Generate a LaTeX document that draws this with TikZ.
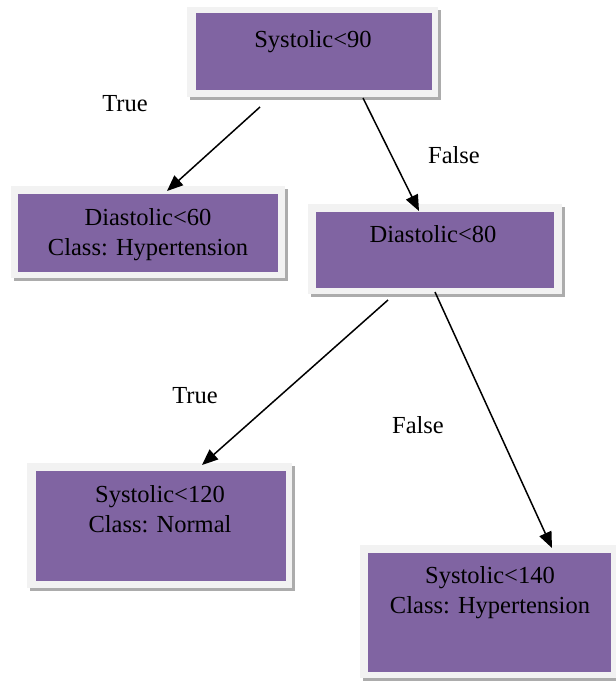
\documentclass[tikz,border=0pt]{standalone}
\usepackage{fontspec}
\setmainfont{Liberation Serif}
\usetikzlibrary{arrows.meta,shadows}
\definecolor{boxpurple}{HTML}{8064A2}
\definecolor{framegray}{HTML}{F2F2F2}
\begin{document}
\begin{tikzpicture}[x=1pt,y=-1pt,
  frame/.style={fill=framegray, draw=none, inner sep=0pt,
    general shadow={fill=gray!65, shadow xshift=3pt, shadow yshift=-3pt}},
  inner/.style={fill=boxpurple, draw=none, inner sep=0pt},
  txt/.style={font=\fontsize{24.5}{30}\selectfont, anchor=base, inner sep=0pt},
  arr/.style={line width=1.5pt, -{Triangle[length=16pt,width=13pt]}}]
\useasboundingbox (0,0) rectangle (616,683);

% box 1
\node[frame, minimum width=251pt, minimum height=90pt] (o1) at (312.5,52) {};
\node[inner, minimum width=236pt, minimum height=77pt] (b1) at (314,51.5) {};
\node[txt] (t1) at (313,47) {Systolic<90};
% box 2
\node[frame, minimum width=274pt, minimum height=92pt] (o2) at (148,232) {};
\node[inner, minimum width=260pt, minimum height=78pt] (b2) at (148,233) {};
\node[txt] (t2) at (148,225) {\begin{tabular}[t]{@{}c@{}}Diastolic<60\\Class: Hypertension\end{tabular}};
% box 3
\node[frame, minimum width=254pt, minimum height=90pt] (o3) at (435,249) {};
\node[inner, minimum width=238pt, minimum height=76pt] (b3) at (435,250) {};
\node[txt] (t3) at (433,242) {Diastolic<80};
% box 4
\node[frame, minimum width=265pt, minimum height=125pt] (o4) at (159.5,525.5) {};
\node[inner, minimum width=250pt, minimum height=110pt] (b4) at (161,526) {};
\node[txt] (t4) at (160,502) {\begin{tabular}[t]{@{}c@{}}Systolic<120\\Class: Normal\end{tabular}};
% box 5
\node[frame, minimum width=257pt, minimum height=133pt] (o5) at (488.5,611.5) {};
\node[inner, minimum width=243pt, minimum height=119pt] (b5) at (489.5,612.5) {};
\node[txt] (t5) at (490,583) {\begin{tabular}[t]{@{}c@{}}Systolic<140\\Class: Hypertension\end{tabular}};

% connector ends
\coordinate (s1) at (260,107);
\coordinate (e1) at (167,191);
\coordinate (s2) at (363,98);
\coordinate (e2) at (419,211);
\coordinate (s3) at (388,300);
\coordinate (e3) at (202,465);
\coordinate (s4) at (435,292);
\coordinate (e4) at (552,548);

\draw[arr] (s1) -- (e1);
\draw[arr] (s2) -- (e2);
\draw[arr] (s3) -- (e3);
\draw[arr] (s4) -- (e4);

% labels
\node[txt] (l1) at (125,111) {True};
\node[txt] (l2) at (454,163) {False};
\node[txt] (l3) at (195,403) {True};
\node[txt] (l4) at (418,433) {False};
\end{tikzpicture}
\end{document}
